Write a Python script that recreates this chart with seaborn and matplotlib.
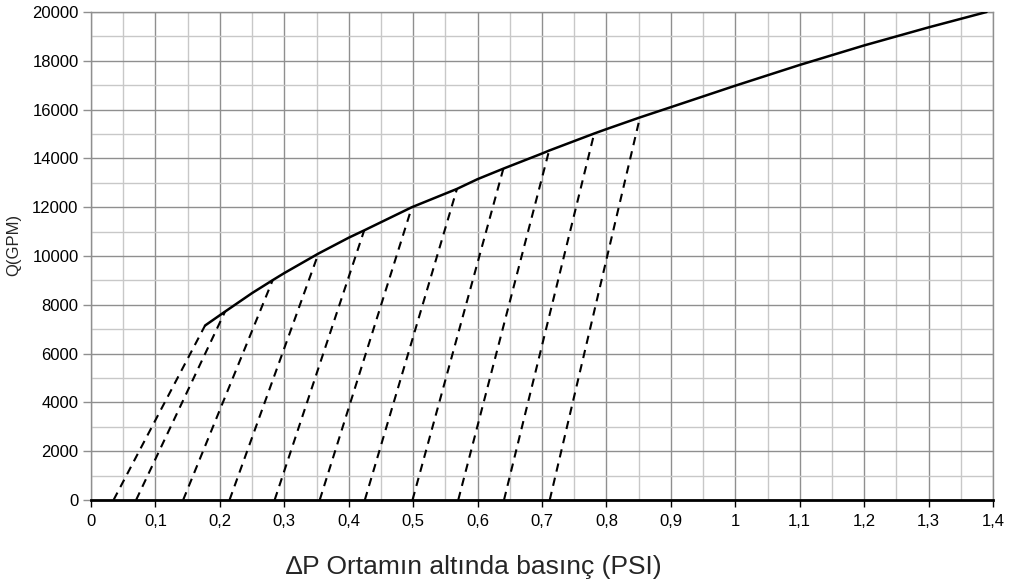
import pandas as pd
import seaborn as sns
import matplotlib.pyplot as plt
from matplotlib.ticker import MultipleLocator, FuncFormatter

# main curve Q vs dP
curve_dp = [0.177, 0.208, 0.25, 0.282, 0.3, 0.353, 0.4, 0.424, 0.498, 0.568, 0.6,
            0.640, 0.7, 0.711, 0.781, 0.8, 0.852, 0.9, 1.0, 1.1, 1.2, 1.3, 1.39]
curve_q = [7150, 7720, 8480, 9010, 9300, 10100, 10750, 11050, 12000, 12750, 13150,
           13580, 14200, 14320, 15020, 15200, 15680, 16100, 16980, 17830, 18630, 19370, 20000]

# dashed guide lines: start on the x axis, end on the curve
dash_start = [0.035, 0.070, 0.143, 0.215, 0.285, 0.355, 0.425, 0.499, 0.570, 0.641, 0.712]
dash_end_dp = [0.177, 0.208, 0.282, 0.353, 0.424, 0.498, 0.568, 0.640, 0.711, 0.781, 0.852]
dash_end_q = [7150, 7720, 9010, 10100, 11050, 12000, 12750, 13580, 14320, 15020, 15680]

x_label = "\u2206P Ortamın altında basınç (PSI)"
y_label = "Q(GPM)"

sns.set_theme(style="white")
plt.rcParams["font.family"] = ["Liberation Sans", "DejaVu Sans"]

major_c = "#8f8f8f"
minor_c = "#c8c8c8"

fig = plt.figure(figsize=(10.14, 5.86), dpi=100)
ax = fig.add_axes([91 / 1014, 86 / 586, 902 / 1014, 488 / 586])

# dashed segments as one long frame with a unit column
rows = []
for i, (x0, x1, y1) in enumerate(zip(dash_start, dash_end_dp, dash_end_q)):
    rows.append({"seg": i, "dp": x0, "q": 0})
    rows.append({"seg": i, "dp": x1, "q": y1})
dash_df = pd.DataFrame(rows)
sns.lineplot(data=dash_df, x="dp", y="q", units="seg", estimator=None, sort=False,
             color="black", linewidth=1.5, ax=ax, zorder=3)
for line in ax.lines:
    line.set_dashes([4, 3])

curve_df = pd.DataFrame({"dp": curve_dp, "q": curve_q})
sns.lineplot(data=curve_df, x="dp", y="q", color="black", linewidth=1.8,
             ax=ax, zorder=4)

ax.set_xlim(0, 1.4)
ax.set_ylim(0, 20000)
ax.xaxis.set_major_locator(MultipleLocator(0.1))
ax.xaxis.set_minor_locator(MultipleLocator(0.05))
ax.yaxis.set_major_locator(MultipleLocator(2000))
ax.yaxis.set_minor_locator(MultipleLocator(1000))
ax.xaxis.set_major_formatter(FuncFormatter(lambda v, p: f"{v:g}".replace(".", ",")))

ax.grid(which="major", color=major_c, linewidth=1.0)
ax.grid(which="minor", color=minor_c, linewidth=1.0)
ax.set_axisbelow(True)

for side in ["top", "right", "left"]:
    ax.spines[side].set_color(major_c)
    ax.spines[side].set_linewidth(1.0)
ax.spines["bottom"].set_color("black")
ax.spines["bottom"].set_linewidth(2.0)
ax.spines["bottom"].set_zorder(5)

ax.tick_params(axis="y", which="major", left=True, length=6, width=1, color=major_c,
               labelsize=12, pad=3, labelcolor="black")
ax.tick_params(axis="x", which="major", bottom=True, length=5, width=1, color="black",
               labelsize=12, pad=5, labelcolor="black")
ax.tick_params(which="minor", length=0)

ax.set_xlabel("")
ax.set_ylabel("")
fig.text(0.4675, 0.033, x_label, ha="center", va="center", fontsize=19)
fig.text(0.014, 0.582, y_label, ha="center", va="center", rotation=90, fontsize=12)

fig.savefig("out.png", dpi=100)
